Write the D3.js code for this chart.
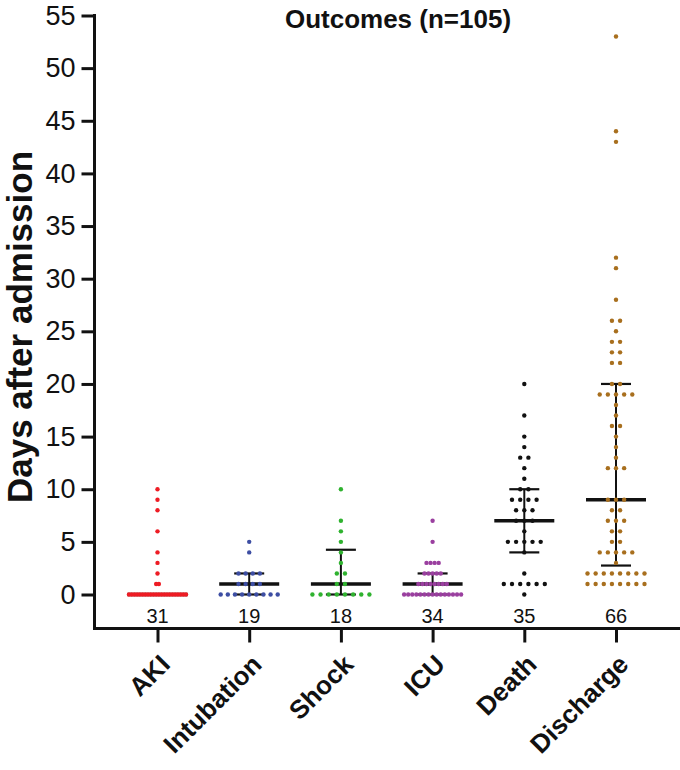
<!DOCTYPE html>
<html><head><meta charset="utf-8">
<script src="https://cdn.jsdelivr.net/npm/d3@7"></script>
<style>
html,body{margin:0;padding:0;background:#fff;}
svg{display:block;font-family:"Liberation Sans",Arial,sans-serif;}
</style></head>
<body><svg id="chart" width="680" height="770"></svg>
<script>
const title = "Outcomes (n=105)";
const yLabel = "Days after admission";
const categories = ["AKI","Intubation","Shock","ICU","Death","Discharge"];
const colors = ["#ee1c24","#3d4ea3","#2fb22f","#9a3f9f","#111111","#a86f1e"];
const yTicks = [0,5,10,15,20,25,30,35,40,45,50,55];

const akiDays = [0,0,0,0,0,0,0,0,0,0,0,0,0,0,0,0,0,0,0,0,0,0,1,1,2,3,4,6,8,9,10];
const intubationDays = [0,0,0,0,0,0,0,0,0,1,1,1,1,2,2,2,2,4,5];
const shockDays = [0,0,0,0,0,0,0,0,1,1,2,2,3,4,5,6,7,10];
const icuDays = [0,0,0,0,0,0,0,0,0,0,0,0,0,0,0,1,1,1,1,1,1,1,1,2,2,2,2,2,3,3,3,3,5,7];
const deathDays = [0,1,1,1,1,1,1,2,4,5,5,5,5,5,6,7,7,7,8,8,8,9,9,9,9,10,10,11,12,13,13,14,15,17,20];
const dischargeDays = [1,1,1,1,1,1,1,1,2,2,2,2,2,2,2,2,3,4,4,4,4,4,5,5,6,6,7,7,7,8,8,9,9,9,
  12,12,12,13,14,15,16,16,17,18,19,19,19,19,19,20,20,22,22,23,23,24,24,25,26,26,28,31,32,43,44,53];

const medians = [0,1,1,1,7,9];
const q1s = [0,0,0,0,4,2.75];
const q3s = [0,2,4.25,2,10,20];

const series = [akiDays,intubationDays,shockDays,icuDays,deathDays,dischargeDays];

const svg = d3.select("#chart");
const y = d3.scaleLinear().domain([0,55]).range([594.5,15.5]);
const x = d3.scalePoint().domain(categories).range([157.5,616]);
const axisLeftX = 94.5, axisBottomY = 628.5;

// title
svg.append("text").attr("x",398).attr("y",28).attr("text-anchor","middle")
  .attr("font-weight","bold").attr("font-size",26).attr("fill","#111").text(title);
// y label
svg.append("text").attr("transform","translate(32,327) rotate(-90)").attr("text-anchor","middle")
  .attr("font-weight","bold").attr("font-size",35).attr("fill","#111").text(yLabel);

// y axis
const gy = svg.append("g").attr("transform",`translate(${axisLeftX},0)`)
  .call(d3.axisLeft(y).tickValues(yTicks).tickSize(13).tickPadding(6));
gy.select(".domain").remove();
gy.selectAll(".tick line").attr("stroke","#111").attr("stroke-width",3);
gy.selectAll(".tick text").attr("font-size",27).attr("fill","#111").attr("font-family","Liberation Sans, Arial, sans-serif");
svg.append("line").attr("x1",axisLeftX).attr("x2",axisLeftX).attr("y1",y(55)-1.5).attr("y2",axisBottomY+1.5)
  .attr("stroke","#111").attr("stroke-width",3);

// x axis
const gx = svg.append("g").attr("transform",`translate(0,${axisBottomY})`)
  .call(d3.axisBottom(x).tickSize(14).tickFormat(""));
gx.select(".domain").remove();
gx.selectAll(".tick line").attr("stroke","#111").attr("stroke-width",3);
svg.append("line").attr("x1",axisLeftX-1.5).attr("x2",680).attr("y1",axisBottomY).attr("y2",axisBottomY)
  .attr("stroke","#111").attr("stroke-width",3);

// x labels
svg.selectAll(".xlab").data(categories).enter().append("text")
  .attr("class","xlab")
  .attr("transform",d=>`translate(${x(d)+14},666) rotate(-45)`)
  .attr("text-anchor","end").attr("font-weight","bold").attr("font-size",26).attr("fill","#111")
  .text(d=>d);

// error bars (under dots)
categories.forEach((c,i)=>{
  const cx = x(c);
  const g = svg.append("g");
  g.append("line").attr("x1",cx).attr("x2",cx).attr("y1",y(q1s[i])).attr("y2",y(q3s[i]))
    .attr("stroke","#111").attr("stroke-width",2);
  [q1s[i],q3s[i]].forEach(v=>{
    g.append("line").attr("x1",cx-15).attr("x2",cx+15).attr("y1",y(v)).attr("y2",y(v))
      .attr("stroke","#111").attr("stroke-width",2.2);
  });
  g.append("line").attr("x1",cx-30).attr("x2",cx+30).attr("y1",y(medians[i])).attr("y2",y(medians[i]))
    .attr("stroke","#111").attr("stroke-width",3.6);
});

// dots
series.forEach((vals,i)=>{
  const cx = x(categories[i]);
  const groups = d3.groups(vals, v=>v);
  const maxRow = d3.max(groups, g=>g[1].length);
  const sp = maxRow>1 ? Math.min(8.2, 57/(maxRow-1)) : 8.2;
  const pts = [];
  groups.forEach(([v,arr])=>{
    const n = arr.length;
    arr.forEach((_,k)=>pts.push({v, dx:(k-(n-1)/2)*sp}));
  });
  svg.append("g").selectAll("circle").data(pts).enter().append("circle")
    .attr("cx",d=>cx+d.dx).attr("cy",d=>y(d.v)).attr("r",2.2).attr("fill",colors[i]);
  svg.append("text").attr("x",cx).attr("y",623).attr("text-anchor","middle")
    .attr("font-size",20).attr("fill","#111").text(vals.length);
});
</script></body></html>
